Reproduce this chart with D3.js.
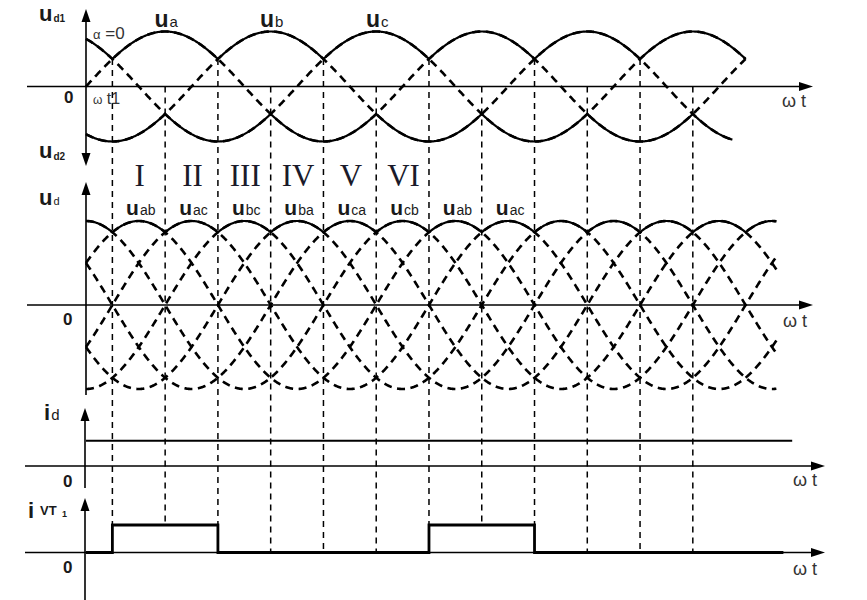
<!DOCTYPE html>
<html>
<head>
<meta charset="utf-8">
<script src="https://cdn.jsdelivr.net/npm/d3@7"></script>
<style>
  html, body { margin: 0; padding: 0; background: #fff; }
  svg { display: block; font-family: "Liberation Sans", Arial, sans-serif; }
</style>
</head>
<body>
<svg id="chart" width="867" height="600"></svg>
<script>
// ---------------- data ----------------
const phaseNames = ["a", "b", "c"];
const phasePeaks = [90, 210, 330];          // deg where each phase voltage peaks
const phaseEnds  = [750, 735, 750];         // deg where each phase trace ends
const upperEnvEnd = 750, lowerEnvEnd = 735;

const lineNames = ["ab", "ac", "bc", "ba", "ca", "cb"];
const linePeaks = [60, 120, 180, 240, 300, 0];
const lineEnd = 785;

const commutations = [30, 90, 150, 210, 270, 330, 390, 450, 510, 570, 630, 690];
const sectionLabels = ["I", "II", "III", "IV", "V", "VI"];
const lineLabelSeq = ["ab", "ac", "bc", "ba", "ca", "cb", "ab", "ac"];

const idLevel = 1, idEnd = 803;
const ivtPulses = [[30, 150], [390, 510]];
const ivtEnd = 793;

// ---------------- scales ----------------
const svg = d3.select("#chart");
const x = d3.scaleLinear().domain([0, 720]).range([86, 719.2]);
const yTop = d3.scaleLinear().domain([-1, 1]).range([141.5, 31.5]);
const yMid = d3.scaleLinear().domain([-1, 1]).range([389, 221]);
const yId  = d3.scaleLinear().domain([0, 1]).range([466, 440.7]);
const yIvt = d3.scaleLinear().domain([0, 1]).range([552.5, 525]);

const rad = Math.PI / 180;
const wave = (peak) => (t) => Math.cos((t - peak) * rad);
const phaseF = phasePeaks.map(wave);
const lineF = linePeaks.map(wave);
const samples = (a, b) => d3.range(a, b, 0.5).concat([b]);

const lineGen = (ys) => d3.line().x(d => x(d[0])).y(d => ys(d[1]));

// ---------------- helpers ----------------
function arrowRight(xEnd, y) {
  svg.append("path").attr("d", `M${xEnd},${y} L${xEnd - 14},${y - 4.5} L${xEnd - 14},${y + 4.5} Z`).attr("fill", "#000");
}
function arrowUp(xx, yTip) {
  svg.append("path").attr("d", `M${xx},${yTip} L${xx - 4.5},${yTip + 13} L${xx + 4.5},${yTip + 13} Z`).attr("fill", "#000");
}
function arrowDown(xx, yTip) {
  svg.append("path").attr("d", `M${xx},${yTip} L${xx - 4.5},${yTip - 13} L${xx + 4.5},${yTip - 13} Z`).attr("fill", "#000");
}
function hLine(x1, x2, y, w) {
  svg.append("line").attr("x1", x1).attr("x2", x2).attr("y1", y).attr("y2", y)
    .attr("stroke", "#000").attr("stroke-width", w || 1.4);
}
function vLine(xx, y1, y2, w) {
  svg.append("line").attr("x1", xx).attr("x2", xx).attr("y1", y1).attr("y2", y2)
    .attr("stroke", "#000").attr("stroke-width", w || 1.6);
}
function label(xx, y, main, sub, mainSize, subSize, anchor, mainBold, subBold, subDy) {
  const t = svg.append("text").attr("x", xx).attr("y", y).attr("text-anchor", anchor || "start")
    .attr("fill", "#1a1a1a");
  t.append("tspan").text(main).attr("font-size", mainSize).attr("font-weight", mainBold ? "bold" : "normal");
  if (sub) t.append("tspan").text(sub).attr("font-size", subSize).attr("dy", subDy || 0)
    .attr("dx", 1).attr("font-weight", subBold ? "bold" : "normal");
  return t;
}

// ---------------- vertical commutation lines ----------------
const upperEnv = (t) => d3.max(phaseF, f => f(t));
const inPulse = (t) => ivtPulses.some(p => t >= p[0] && t <= p[1]);
commutations.forEach(t => {
  const ue = upperEnv(t);
  const yStart = ue < 0.9 ? yTop(ue) : yTop(0);
  const yEnd = inPulse(t) ? yIvt(1) : yIvt(0);
  svg.append("line").attr("x1", x(t)).attr("x2", x(t)).attr("y1", yStart).attr("y2", yEnd)
    .attr("stroke", "#000").attr("stroke-width", 1.5).attr("stroke-dasharray", "6,5");
});

// ---------------- axes ----------------
vLine(86, 14, 160);
arrowUp(86, 9);
arrowDown(86, 166);
hLine(27, 800, yTop(0));
arrowRight(813, yTop(0));

vLine(86, 190, 395);
arrowUp(86, 182);
hLine(27, 800, yMid(0));
arrowRight(813, yMid(0));

vLine(85, 415, 488);
arrowUp(85, 408);
hLine(25, 812, yId(0));
arrowRight(825, yId(0));

vLine(85, 505, 600);
arrowUp(85, 498);
hLine(25, 812, yIvt(0));
arrowRight(825, yIvt(0));

// ---------------- top panel: phase voltages ----------------
phaseF.forEach((f, i) => {
  const pts = samples(0, phaseEnds[i]).map(t => [t, f(t)]);
  svg.append("path").attr("d", lineGen(yTop)(pts)).attr("fill", "none")
    .attr("stroke", "#000").attr("stroke-width", 2.6).attr("stroke-dasharray", "8,5.5");
});
const upPts = samples(0, upperEnvEnd).map(t => [t, d3.max(phaseF, f => f(t))]);
const loPts = samples(0, lowerEnvEnd).map(t => [t, d3.min(phaseF, f => f(t))]);
[upPts, loPts].forEach(pts => {
  svg.append("path").attr("d", lineGen(yTop)(pts)).attr("fill", "none")
    .attr("stroke", "#000").attr("stroke-width", 2.2);
});

// ---------------- middle panel: line voltages ----------------
lineF.forEach((f) => {
  const pts = samples(0, lineEnd).map(t => [t, f(t)]);
  svg.append("path").attr("d", lineGen(yMid)(pts)).attr("fill", "none")
    .attr("stroke", "#000").attr("stroke-width", 2.6).attr("stroke-dasharray", "8,5.5");
});
const udPts = samples(0, lineEnd).map(t => [t, d3.max(lineF, f => f(t))]);
svg.append("path").attr("d", lineGen(yMid)(udPts)).attr("fill", "none")
  .attr("stroke", "#000").attr("stroke-width", 2.2);

// ---------------- id ----------------
svg.append("path").attr("d", lineGen(yId)([[0, idLevel], [idEnd, idLevel]]))
  .attr("fill", "none").attr("stroke", "#000").attr("stroke-width", 2);

// ---------------- ivt1 ----------------
const ivtPts = [[0, 0]];
ivtPulses.forEach(p => { ivtPts.push([p[0], 0], [p[0], 1], [p[1], 1], [p[1], 0]); });
ivtPts.push([ivtEnd, 0]);
svg.append("path").attr("d", lineGen(yIvt)(ivtPts)).attr("fill", "none")
  .attr("stroke", "#000").attr("stroke-width", 2.8).attr("stroke-linejoin", "miter");

// ---------------- labels ----------------
label(39, 21, "u", "d1", 22, 10, "start", true, true, 1);
label(39, 158, "u", "d2", 22, 10, "start", true, true, 2);
label(39, 205, "u", "d", 22, 11, "start", true, false, 0);
label(44, 420, "i", "d", 22, 15, "start", true, false, 0);
svg.append("text").attr("x", 28).attr("y", 518).attr("font-size", 22).attr("font-weight", "bold").attr("fill", "#1a1a1a").text("i");
svg.append("text").attr("x", 40).attr("y", 515).attr("font-size", 13).attr("font-weight", "bold").attr("fill", "#1a1a1a").text("VT");
svg.append("text").attr("x", 62).attr("y", 517).attr("font-size", 9).attr("font-weight", "bold").attr("fill", "#1a1a1a").text("1");

[[64, 103], [63, 325], [63, 487], [63, 573]].forEach(p => {
  svg.append("text").attr("x", p[0]).attr("y", p[1]).attr("font-size", 17).attr("font-weight", "bold")
    .attr("fill", "#1a1a1a").text("0");
});

[[782, 107], [783, 327], [793, 486], [793, 575]].forEach(p => {
  svg.append("text").attr("x", p[0]).attr("y", p[1]).attr("font-size", 18).attr("fill", "#333").text("ω t");
});

const al = svg.append("text").attr("x", 93).attr("y", 39).attr("fill", "#333");
al.append("tspan").text("α").attr("font-size", 13);
al.append("tspan").text(" =0").attr("font-size", 17);
const wt1 = svg.append("text").attr("x", 93).attr("y", 104).attr("fill", "#333");
wt1.append("tspan").text("ω").attr("font-size", 12);
wt1.append("tspan").text(" t1").attr("font-size", 16);

phasePeaks.forEach((p, i) => {
  label(x(p) + 1, 27, "u", phaseNames[i], 23, 15, "middle", true, false, 0);
});

sectionLabels.forEach((s, i) => {
  const c = (commutations[i] + commutations[i + 1]) / 2;
  svg.append("text").attr("x", x(c) + 1).attr("y", 186).attr("text-anchor", "middle")
    .attr("font-family", "'Liberation Serif', 'Times New Roman', serif").attr("font-size", 31)
    .attr("fill", "#1a1a2a").text(s);
});
lineLabelSeq.forEach((s, i) => {
  const c = (commutations[i] + commutations[i + 1]) / 2;
  label(x(c) + 2, 215, "u", s, 21, 14, "middle", true, false, 0);
});
</script>
</body>
</html>
